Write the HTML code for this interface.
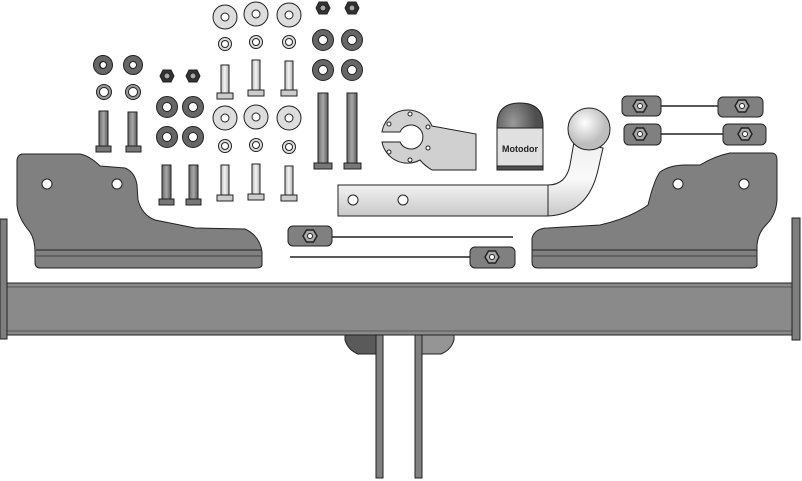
<!DOCTYPE html>
<html><head><meta charset="utf-8"><style>html,body{margin:0;padding:0;background:#fff}svg{display:block}</style></head>
<body>
<svg width="802" height="481" viewBox="0 0 802 481" xmlns="http://www.w3.org/2000/svg">
<defs>
<linearGradient id="bolt" x1="0" x2="1"><stop offset="0" stop-color="#6a6a6a"/><stop offset="0.5" stop-color="#a8a8a8"/><stop offset="1" stop-color="#5a5a5a"/></linearGradient>
<linearGradient id="lbolt" x1="0" x2="1"><stop offset="0" stop-color="#bbb"/><stop offset="0.5" stop-color="#f4f4f4"/><stop offset="1" stop-color="#aaa"/></linearGradient>
<linearGradient id="bar" x1="0" y1="0" x2="0" y2="1"><stop offset="0" stop-color="#eee"/><stop offset="0.5" stop-color="#fafafa"/><stop offset="1" stop-color="#c8c8c8"/></linearGradient>
<radialGradient id="ball" cx="0.4" cy="0.35"><stop offset="0" stop-color="#fff"/><stop offset="1" stop-color="#bdbdbd"/></radialGradient>
<radialGradient id="cap" cx="0.35" cy="0.3"><stop offset="0" stop-color="#9a9a9a"/><stop offset="1" stop-color="#4e4e4e"/></radialGradient>
</defs>
<g stroke="#222" stroke-width="1">
<rect x="7" y="283" width="785" height="52" fill="#8a8a8a"/>
<line x1="7" y1="287" x2="792" y2="287" stroke="#555"/>
<line x1="7" y1="331" x2="792" y2="331" stroke="#555"/>
<rect x="0" y="219" width="7" height="120" fill="#7e7e7e"/>
<rect x="792" y="218" width="8" height="122" fill="#7e7e7e"/>
<path d="M345 335 H383 V354 H358 Q348 350 345 340 Z" fill="#5a5a5a"/>
<rect x="376" y="335" width="7" height="143" fill="#808080"/>
<path d="M415 335 H454 V340 Q451 350 441 354 H415 Z" fill="#959595"/>
<rect x="415" y="335" width="7" height="143" fill="#808080"/>
<path d="M23 154 H80 Q90 156 100 166 L125 168 Q135 172 137 185 L138 200 Q142 215 155 220 L195 228 L245 229 Q260 236 262 252 V265 Q262 268 255 268 H40 Q35 268 35 262 V252 Q35 240 30 232 Q18 218 17 205 V160 Q18 154 23 154 Z" fill="#808080"/>
<line x1="36" y1="250" x2="262" y2="250"/>
<line x1="36" y1="256" x2="262" y2="256" stroke="#444"/>
<circle cx="47" cy="184" r="5" fill="#fff"/><circle cx="117" cy="184" r="5" fill="#fff"/>
<path d="M771 153 Q777 153 777 160 V200 Q776 215 766 225 Q758 233 757 245 V265 Q757 268 750 268 H538 Q532 268 532 262 V238 Q535 228 548 228 L600 225 Q630 218 648 205 Q654 180 660 172 Q670 165 685 165 L700 165 Q715 156 730 153 Z" fill="#808080"/>
<line x1="532" y1="250" x2="757" y2="250"/>
<line x1="532" y1="256" x2="757" y2="256" stroke="#444"/>
<circle cx="678" cy="184" r="5" fill="#fff"/><circle cx="744" cy="184" r="5" fill="#fff"/>
<!-- tow bar -->
<path d="M338 185 H548 Q566 185 570 165 L574 142 L603 148 L598 170 Q588 214 548 216 H338 Z" fill="url(#bar)"/>
<line x1="548" y1="185" x2="548" y2="216"/>
<circle cx="353" cy="200" r="5" fill="#fff"/><circle cx="403" cy="200" r="5" fill="#fff"/>
<circle cx="589" cy="129" r="21" fill="url(#ball)"/>
<!-- socket plate -->
<path d="M408 110 A26 26 0 0 1 432 126 L476 134 V170 H432 Q425 166 420 160 A26 26 0 0 1 382 142 L400 142 A12 12 0 1 0 400 132 L382 132 A26 26 0 0 1 408 110 Z" fill="#d0d0d0"/>
<g fill="#fff"><circle cx="410" cy="114" r="2"/><circle cx="428" cy="127" r="2"/><circle cx="428" cy="148" r="2"/><circle cx="410" cy="160" r="2"/><circle cx="389" cy="152" r="2"/><circle cx="389" cy="124" r="2"/></g>
<path d="M497 125 Q497 103 520 103 Q543 103 543 125 V170 H497 Z" fill="url(#cap)"/>
<rect x="497" y="128" width="46" height="38" fill="#e0e0e0"/>
<text x="520" y="152" font-family="Liberation Sans, sans-serif" font-size="9" font-weight="bold" fill="#222" stroke="none" text-anchor="middle">Motodor</text>
<line x1="332" y1="237" x2="513" y2="237" stroke-width="1.5"/>
<line x1="290" y1="257" x2="470" y2="257" stroke-width="1.5"/>
<line x1="660" y1="106" x2="718" y2="106" stroke-width="1.5"/>
<line x1="660" y1="134" x2="723" y2="134" stroke-width="1.5"/>
<g fill="#808080">
<rect x="288" y="226" width="44" height="20" rx="5"/><rect x="470" y="247" width="45" height="21" rx="5"/>
<rect x="622" y="96" width="39" height="20" rx="5"/><rect x="718" y="97" width="45" height="20" rx="5"/>
<rect x="624" y="124" width="37" height="21" rx="5"/><rect x="723" y="124" width="43" height="21" rx="5"/>
</g>
<g fill="#aaa" stroke-width="1.5">
<polygon points="303,236 306.5,230 313.5,230 317,236 313.5,242 306.5,242"/>
<polygon points="485,257 488.5,251 495.5,251 499,257 495.5,263 488.5,263"/>
<polygon points="633,106 636.5,100 643.5,100 647,106 643.5,112 636.5,112"/>
<polygon points="735,106 738.5,100 745.5,100 749,106 745.5,112 738.5,112"/>
<polygon points="633,134 636.5,128 643.5,128 647,134 643.5,140 636.5,140"/>
<polygon points="738,134 741.5,128 748.5,128 752,134 748.5,140 741.5,140"/>
</g>
<g fill="#fff"><circle cx="310" cy="236" r="2.5"/><circle cx="492" cy="257" r="2.5"/><circle cx="640" cy="106" r="2.5"/><circle cx="742" cy="106" r="2.5"/><circle cx="640" cy="134" r="2.5"/><circle cx="745" cy="134" r="2.5"/></g>
<!-- dark washers -->
<g fill="#666" fill-rule="evenodd">
<path d="M96 65a7.5 7.5 0 1 0 15 0a7.5 7.5 0 1 0 -15 0Z M100 65a3.5 3.5 0 1 1 7 0a3.5 3.5 0 1 1 -7 0Z"/>
</g>
<g fill="none" stroke="#222" stroke-width="1">
<g stroke="#222" stroke-width="7">
<circle cx="103" cy="65" r="6.5"/><circle cx="133" cy="65" r="6.5"/>
<circle cx="167" cy="107" r="7.5"/><circle cx="193" cy="107" r="7.5"/>
<circle cx="167" cy="137" r="7.5"/><circle cx="193" cy="137" r="7.5"/>
<circle cx="323" cy="40" r="7.5"/><circle cx="352" cy="40" r="7.5"/>
<circle cx="323" cy="70" r="7.5"/><circle cx="352" cy="70" r="7.5"/>
</g>
<g stroke="#666" stroke-width="5">
<circle cx="103" cy="65" r="6.5"/><circle cx="133" cy="65" r="6.5"/>
<circle cx="167" cy="107" r="7.5"/><circle cx="193" cy="107" r="7.5"/>
<circle cx="167" cy="137" r="7.5"/><circle cx="193" cy="137" r="7.5"/>
<circle cx="323" cy="40" r="7.5"/><circle cx="352" cy="40" r="7.5"/>
<circle cx="323" cy="70" r="7.5"/><circle cx="352" cy="70" r="7.5"/>
</g>
<g stroke="#222" stroke-width="4">
<circle cx="104" cy="92" r="6"/><circle cx="133" cy="92" r="6"/>
<circle cx="225" cy="44" r="5"/><circle cx="256" cy="42" r="5"/><circle cx="289" cy="42" r="5"/>
<circle cx="225" cy="146" r="5"/><circle cx="256" cy="145" r="5"/><circle cx="289" cy="147" r="5"/>
</g>
<g stroke="#999" stroke-width="2">
<circle cx="104" cy="92" r="6"/><circle cx="133" cy="92" r="6"/>
</g>
<g stroke="#ddd" stroke-width="2">
<circle cx="225" cy="44" r="5"/><circle cx="256" cy="42" r="5"/><circle cx="289" cy="42" r="5"/>
<circle cx="225" cy="146" r="5"/><circle cx="256" cy="145" r="5"/><circle cx="289" cy="147" r="5"/>
</g>
</g>
<g fill="#ddd">
<circle cx="225" cy="17" r="12"/><circle cx="256" cy="14" r="12"/><circle cx="289" cy="15" r="12"/>
<circle cx="225" cy="118" r="12"/><circle cx="256" cy="117" r="12"/><circle cx="289" cy="118" r="12"/>
</g>
<g fill="#fff">
<circle cx="225" cy="17" r="4"/><circle cx="256" cy="14" r="4"/><circle cx="289" cy="15" r="4"/>
<circle cx="225" cy="118" r="4"/><circle cx="256" cy="117" r="4"/><circle cx="289" cy="118" r="4"/>
</g>
<g fill="#333">
<polygon points="160,76 163,70 171,70 174,76 171,82 163,82"/>
<polygon points="186,76 189,70 197,70 200,76 197,82 189,82"/>
<polygon points="316,8 319,2 327,2 330,8 327,14 319,14"/>
<polygon points="345,8 348,2 356,2 359,8 356,14 348,14"/>
</g>
<g fill="#aaa"><circle cx="167" cy="76" r="3"/><circle cx="193" cy="76" r="3"/><circle cx="323" cy="8" r="3"/><circle cx="352" cy="8" r="3"/></g>
<g fill="url(#bolt)">
<rect x="99" y="111" width="9" height="35"/><rect x="128" y="112" width="9" height="34"/>
<rect x="162" y="165" width="9" height="34"/><rect x="189" y="165" width="9" height="34"/>
<rect x="318" y="93" width="10" height="70"/><rect x="347" y="93" width="10" height="70"/>
</g>
<g fill="#777">
<rect x="96" y="146" width="15" height="6"/><rect x="126" y="146" width="15" height="6"/>
<rect x="159" y="199" width="15" height="6"/><rect x="186" y="199" width="15" height="6"/>
<rect x="314" y="163" width="18" height="6"/><rect x="344" y="163" width="17" height="6"/>
</g>
<g fill="url(#lbolt)">
<rect x="221" y="65" width="8" height="28"/><rect x="252" y="60" width="8" height="30"/><rect x="285" y="61" width="8" height="29"/>
<rect x="221" y="165" width="8" height="30"/><rect x="252" y="164" width="8" height="30"/><rect x="285" y="166" width="8" height="29"/>
</g>
<g fill="#ccc">
<rect x="217" y="93" width="16" height="6"/><rect x="248" y="90" width="16" height="6"/><rect x="281" y="90" width="16" height="6"/>
<rect x="217" y="195" width="16" height="6"/><rect x="248" y="194" width="16" height="6"/><rect x="281" y="195" width="16" height="6"/>
</g>
</g>
</svg>
</body></html>
